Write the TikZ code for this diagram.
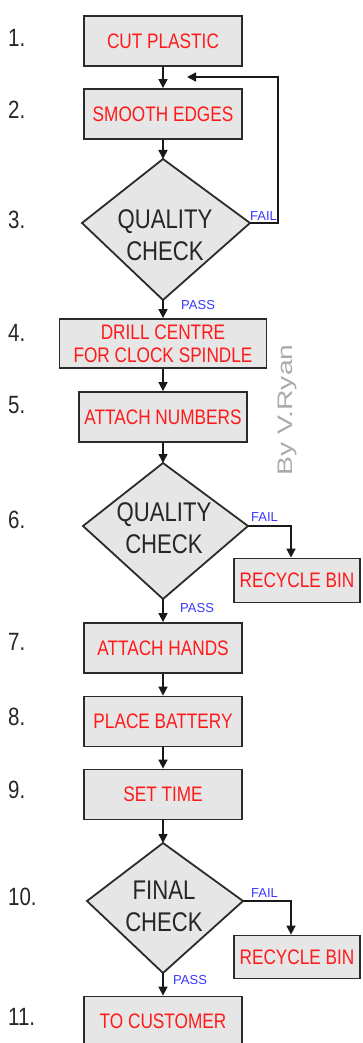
\documentclass[tikz,border=0pt]{standalone}
\usepackage{fontspec}
\usepackage{graphicx}
\setmainfont{Liberation Sans}
\newfontfamily\narrowsf[FakeStretch=0.82]{Liberation Sans}
\usetikzlibrary{arrows.meta}
\definecolor{boxgray}{HTML}{E6E6E6}
\definecolor{steptext}{HTML}{FF1A1A}
\definecolor{tagblue}{HTML}{3838FF}
\definecolor{edge}{HTML}{2B2B2B}
\begin{document}
\begin{tikzpicture}  % ------ Clock assembly ---------------
      [x=1pt,y=-1pt,
       stepbox/.style={draw=edge,line width=1.8pt,fill=boxgray,inner sep=0pt,
                       minimum width=158pt,minimum height=50pt,text=steptext,align=center,
                       font=\narrowsf\fontsize{21}{23}\selectfont},
       losange/.style={draw=edge,line width=1.8pt,fill=boxgray,line join=miter},
       asktext/.style={inner sep=0pt,align=center,text=black!85,
                       font=\narrowsf\fontsize{27}{32}\selectfont},
       num/.style={anchor=west,inner sep=0pt,text=black!85,
                   font=\narrowsf\fontsize{25}{25}\selectfont},
       tag/.style={anchor=base west,inner sep=0pt,text=tagblue,font=\fontsize{13}{13}\selectfont},
       flow/.style={draw=black!90,line width=1.6pt,-{Triangle[width=9pt,length=9pt]}}]
    \useasboundingbox (0,0) rectangle (362,1043);

    \coordinate (top3) at (163,159);
    \coordinate (rgt3) at (250,223);
    \coordinate (bot3) at (163,300);
    \coordinate (lft3) at (82,223);

    \coordinate (top6) at (163,463);
    \coordinate (rgt6) at (248,526);
    \coordinate (bot6) at (163,599);
    \coordinate (lft6) at (83,526);

    \coordinate (top10) at (163,843);
    \coordinate (rgt10) at (243,901);
    \coordinate (bot10) at (163,973);
    \coordinate (lft10) at (87,901);

    \coordinate (back) at (187,77);

    \node[stepbox] (B1) at (163,41) {CUT PLASTIC};
    \node[stepbox] (B2) at (163,114) {SMOOTH EDGES};
    \draw[losange] (top3) -- (rgt3) -- (bot3) -- (lft3) -- cycle;
    \node[asktext] (Q3) at (165,235.5) {QUALITY\\CHECK};
    \node[stepbox,minimum width=207pt,minimum height=49pt] (B4) at (163,343.5)
          {DRILL CENTRE\\FOR CLOCK SPINDLE};
    \node[stepbox,minimum width=168pt] (B5) at (163,417) {ATTACH NUMBERS};
    \draw[losange] (top6) -- (rgt6) -- (bot6) -- (lft6) -- cycle;
    \node[asktext] (Q6) at (164,528) {QUALITY\\CHECK};
    \node[stepbox,minimum width=126pt,minimum height=44pt] (bin6) at (297,580.5) {RECYCLE BIN};
    \node[stepbox] (B7) at (163,648) {ATTACH HANDS};
    \node[stepbox] (B8) at (163,721.5) {PLACE BATTERY};
    \node[stepbox] (B9) at (163,794.5) {SET TIME};
    \draw[losange] (top10) -- (rgt10) -- (bot10) -- (lft10) -- cycle;
    \node[asktext] (Q10) at (164,906) {FINAL\\CHECK};
    \node[stepbox,minimum width=126pt,minimum height=43pt] (bin10) at (297,957) {RECYCLE BIN};
    \node[stepbox] (B11) at (163,1021.5) {TO CUSTOMER};

    \draw[flow] (B1) -- (B2);
    \draw[flow] (B2) -- (top3);
    \draw[flow] (bot3) -- (B4);
    \draw[flow] (rgt3) -- ++(28,0) |- (back);
    \draw[flow] (B4) -- (B5);
    \draw[flow] (B5) -- (top6);
    \draw[flow] (bot6) -- (B7);
    \draw[flow] (rgt6) -| ([xshift=-6pt]bin6.north);
    \draw[flow] (B7) -- (B8);
    \draw[flow] (B8) -- (B9);
    \draw[flow] (B9) -- (top10);
    \draw[flow] (bot10) -- (B11);
    \draw[flow] (rgt10) -| ([xshift=-6pt]bin10.north);

    \node[tag] (f3) at (250,220.5) {FAIL};
    \node[tag] (p3) at (181,309) {PASS};
    \node[tag] (f6) at (251,521.5) {FAIL};
    \node[tag] (p6) at (180,612.5) {PASS};
    \node[tag] (f10) at (251,897.5) {FAIL};
    \node[tag] (p10) at (173,984.5) {PASS};

    \node[num] (n1) at (8,37.5) {1.};
    \node[num] (n2) at (8,110) {2.};
    \node[num] (n3) at (8,220) {3.};
    \node[num] (n4) at (8,333) {4.};
    \node[num] (n5) at (8,405) {5.};
    \node[num] (n6) at (8,520) {6.};
    \node[num] (n7) at (8,642) {7.};
    \node[num] (n8) at (8,717) {8.};
    \node[num] (n9) at (8,790) {9.};
    \node[num] (n10) at (8,897) {10.};
    \node[num] (n11) at (8,1017) {11.};

    \node[rotate=90,inner sep=0pt,text=black!33,font=\fontsize{21}{21}\selectfont] (sig)
          at (287,410) {\scalebox{1.35}[1]{By V.Ryan}};
\end{tikzpicture}
\end{document}
